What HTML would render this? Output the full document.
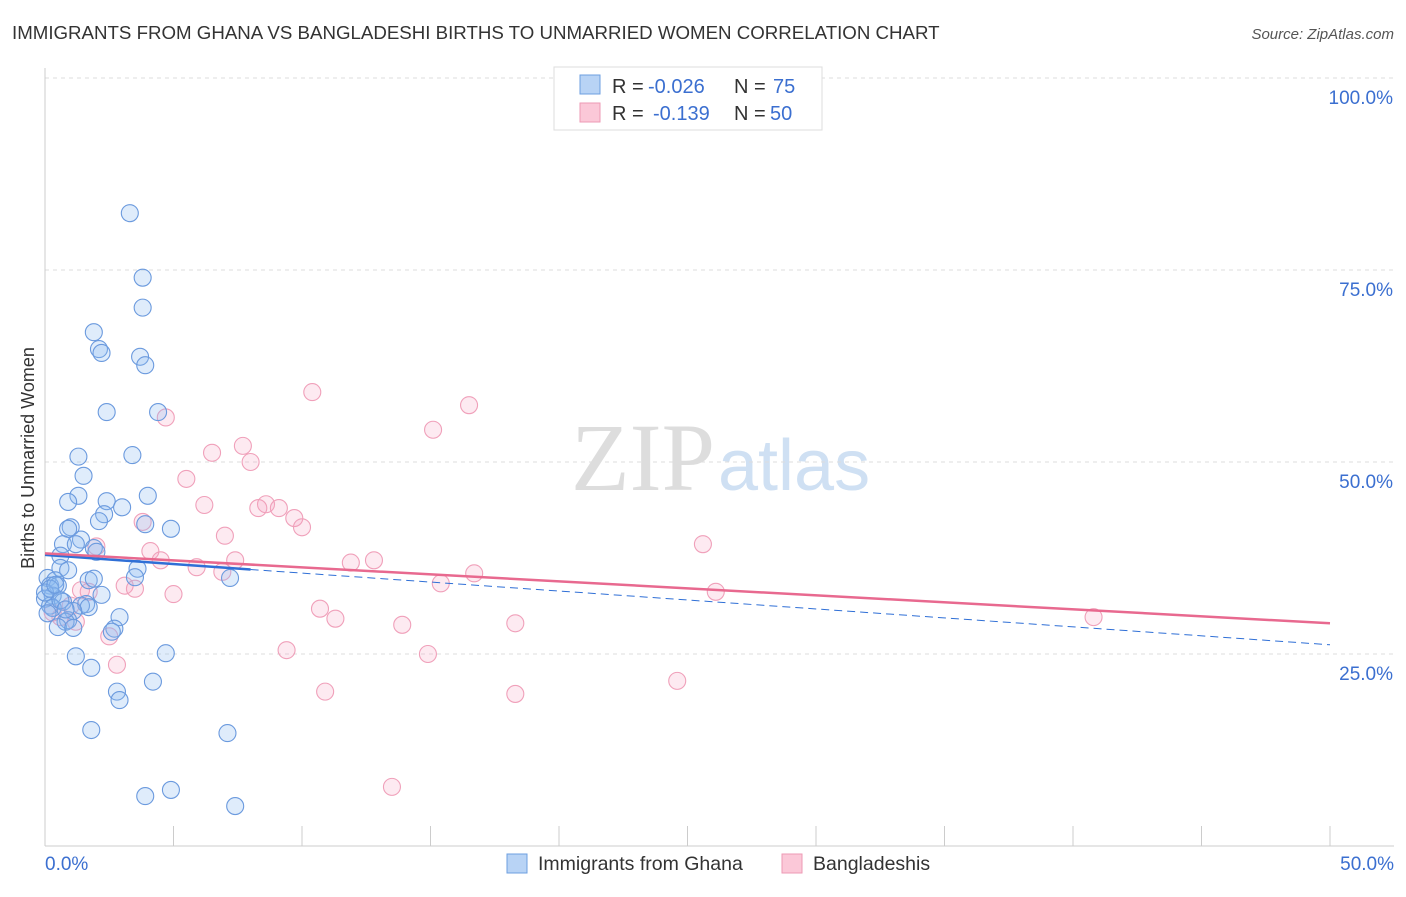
<!DOCTYPE html>
<html><head><meta charset="utf-8"><style>
body{margin:0;background:#fff;font-family:"Liberation Sans",sans-serif;}
svg text{font-family:"Liberation Sans",sans-serif;}
</style></head><body>
<svg width="1406" height="892" id="chart">
<text x="12" y="39" font-size="18.7" fill="#333">IMMIGRANTS FROM GHANA VS BANGLADESHI BIRTHS TO UNMARRIED WOMEN CORRELATION CHART</text>
<text x="1394" y="39" font-size="15" fill="#555" font-style="italic" text-anchor="end">Source: ZipAtlas.com</text>
<text x="34" y="458" font-size="18" fill="#333" text-anchor="middle" transform="rotate(-90 34 458)">Births to Unmarried Women</text>
<text x="715" y="490" font-size="96" fill="#ddd" text-anchor="end" style="font-family:'Liberation Serif',serif">ZIP</text>
<text x="718" y="490" font-size="72" fill="#cfe0f3">atlas</text>
<g id="grid"></g><g id="pts"></g><g id="lines"></g>
<g>
<rect x="554" y="67" width="268" height="63" fill="#fff" stroke="#ddd"/>
<rect x="580" y="75" width="20" height="19" fill="#b8d3f5" stroke="#6d9fe0"/>
<rect x="580" y="103" width="20" height="19" fill="#fbc8d8" stroke="#ee9ab4"/>
<text x="612" y="93" font-size="20" fill="#333">R = <tspan x="648" fill="#3b6fd0">-0.026</tspan><tspan x="734">N = </tspan><tspan x="773" fill="#3b6fd0">75</tspan></text>
<text x="612" y="120" font-size="20" fill="#333">R = <tspan x="653" fill="#3b6fd0">-0.139</tspan><tspan x="734">N = </tspan><tspan x="770" fill="#3b6fd0">50</tspan></text>
</g>
<g>
<rect x="507" y="854" width="20" height="19" fill="#b8d3f5" stroke="#6d9fe0"/>
<text x="538" y="870" font-size="19.5" fill="#333">Immigrants from Ghana</text>
<rect x="782" y="854" width="20" height="19" fill="#fbc8d8" stroke="#ee9ab4"/>
<text x="813" y="870" font-size="19.5" fill="#333">Bangladeshis</text>
</g>
</svg>
<script>
const yTicks=[25,50,75,100];
const xTickLabels=["0.0%","50.0%"];
const blueX=[3.3,3.8,3.8,1.9,2.1,2.2,3.7,3.9,2.4,4.4,1.3,3.4,1.5,1.3,0.9,4.0,2.4,3.0,2.3,2.1,1.0,0.9,3.9,4.9,0.7,1.4,1.2,1.9,2.0,0.6,0.6,0.9,3.6,3.5,1.7,1.9,0.1,0.4,0.2,0.5,7.2,2.2,0.3,0.0,0.2,0.7,1.6,1.4,1.7,1.1,0.3,2.9,0.9,0.8,0.5,1.1,2.7,2.6,4.7,1.2,1.8,4.2,2.8,2.9,1.8,7.1,3.9,4.9,7.4,0.0,0.2,0.4,0.6,0.8,0.1];
const blueY=[82.4,74.0,70.1,66.9,64.7,64.2,63.7,62.6,56.5,56.5,50.7,50.9,48.2,45.6,44.8,45.6,44.9,44.1,43.2,42.3,41.5,41.3,41.9,41.3,39.3,39.9,39.3,38.8,38.3,37.8,36.2,35.9,36.1,35.0,34.6,34.8,34.9,34.6,33.9,33.9,34.9,32.7,32.6,32.2,31.3,31.8,31.5,31.3,31.1,30.6,31.0,29.8,29.4,29.2,28.5,28.4,28.3,27.9,25.1,24.7,23.2,21.4,20.1,19.0,15.1,14.7,6.5,7.3,5.2,33.0,33.5,34.0,32.0,30.8,30.3];
const pinkX=[10.4,16.5,4.7,15.1,7.7,6.5,8.0,5.5,6.2,8.6,9.1,8.3,9.7,10.0,3.8,7.0,2.0,25.6,4.1,7.4,4.5,11.9,12.8,5.9,6.9,16.7,15.4,3.1,3.5,1.4,5.0,1.7,26.1,10.7,11.3,13.9,18.3,2.5,40.8,9.4,14.9,2.8,24.6,10.9,18.3,13.5,0.3,1.0,0.6,1.2];
const pinkY=[59.1,57.4,55.8,54.2,52.1,51.2,50.0,47.8,44.4,44.5,44.0,44.0,42.7,41.5,42.2,40.4,39.0,39.3,38.4,37.2,37.2,36.9,37.2,36.3,35.7,35.5,34.2,33.9,33.5,33.3,32.8,33.1,33.1,30.9,29.6,28.8,29.0,27.3,29.8,25.5,25.0,23.6,21.5,20.1,19.8,7.7,30.4,31.3,29.8,29.2];
const blueLine=[37.9,0,8,36.0,50,26.2];
const pinkLine=[38.1,0,50,29.0];
const X=v=>45+v*25.7, Y=v=>846-v*7.68;
const NS="http://www.w3.org/2000/svg";
function mk(t,a,p){const e=document.createElementNS(NS,t);for(const k in a)e.setAttribute(k,a[k]);p.appendChild(e);return e;}
const g=document.getElementById('grid');
yTicks.forEach(t=>{const l=mk('line',{x1:45,x2:1394,y1:Y(t),y2:Y(t),stroke:'#ddd','stroke-dasharray':'4,4'},g);


const tx=mk('text',{x:1393,y:Y(t)+26,'font-size':19,fill:'#3b6fd0','text-anchor':'end'},g);tx.textContent=t.toFixed(1)+'%';

});
mk('line',{x1:45,x2:45,y1:68,y2:846,stroke:'#ccc'},g);
mk('line',{x1:45,x2:1394,y1:846,y2:846,stroke:'#ccc'},g);
for(let i=0;i<=10;i++){const t=mk('line',{x1:X(i*5),x2:X(i*5),y1:826,y2:846,stroke:'#ccc'},g);

}
[[0,'start',45],[50,'end',1394]].forEach((d,i)=>{const tx=mk('text',{x:d[2],y:870,'font-size':19,fill:'#3b6fd0','text-anchor':d[1]},g);tx.textContent=xTickLabels[i];

});
const p=document.getElementById('pts');
pinkX.forEach((x,i)=>{const c=mk('circle',{cx:X(x),cy:Y(pinkY[i]),r:8.5,fill:'rgba(245,160,190,0.22)',stroke:'#f0a0ba','stroke-width':1.1},p);

});
blueX.forEach((x,i)=>{const c=mk('circle',{cx:X(x),cy:Y(blueY[i]),r:8.5,fill:'rgba(140,185,240,0.28)',stroke:'#6b9ade','stroke-width':1.1},p);

});
const L=document.getElementById('lines');
let a=mk('line',{x1:X(blueLine[1]),y1:Y(blueLine[0]),x2:X(blueLine[2]),y2:Y(blueLine[3]),stroke:'#2f6fd6','stroke-width':2.5},L);


a=mk('line',{x1:X(blueLine[2]),y1:Y(blueLine[3]),x2:X(blueLine[4]),y2:Y(blueLine[5]),stroke:'#2f6fd6','stroke-width':1,'stroke-dasharray':'8,5'},L);


a=mk('line',{x1:X(pinkLine[1]),y1:Y(pinkLine[0]),x2:X(pinkLine[2]),y2:Y(pinkLine[3]),stroke:'#e8698f','stroke-width':2.5},L);


</script>
</body></html>
